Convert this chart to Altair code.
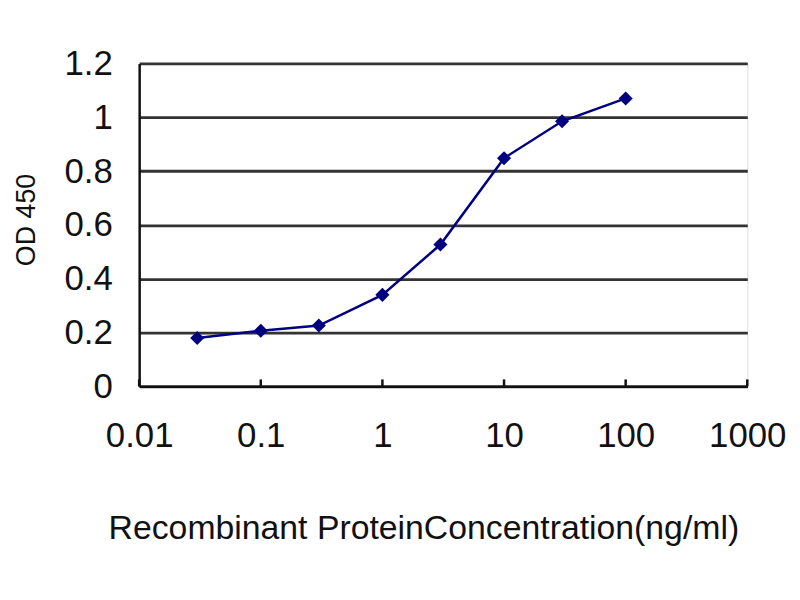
import altair as alt
import pandas as pd

concentration = [0.03, 0.1, 0.3, 1, 3, 10, 30, 100]
od450 = [0.18, 0.207, 0.226, 0.34, 0.527, 0.848, 0.985, 1.07]
x_ticks = [0.01, 0.1, 1, 10, 100, 1000]
y_ticks = [0, 0.2, 0.4, 0.6, 0.8, 1.0, 1.2]

df = pd.DataFrame({"conc": concentration, "od": od450})
ticks_df = pd.DataFrame({"t": x_ticks})

W, H = 612, 325
FONT = "Liberation Sans"
TXT = "#111111"

xscale = alt.Scale(type="log", domain=[0.01, 1000])
yscale = alt.Scale(domain=[0, 1.2], nice=False)

x_enc = alt.X(
    "conc:Q",
    scale=xscale,
    axis=alt.Axis(
        values=x_ticks,
        format="~g",
        title="Recombinant ProteinConcentration(ng/ml)",
        grid=False,
        ticks=False,
        domainColor="#111",
        domainWidth=2.5,
        labelFont=FONT,
        labelFontSize=35,
        labelColor=TXT,
        labelPadding=33,
        labelFlush=False,
        labelOverlap=False,
        titleFont=FONT,
        titleFontSize=34,
        titleFontWeight="normal",
        titleColor=TXT,
        titleX=286,
        titleY=143,
        titleBaseline="middle",
        titleAlign="center",
    ),
)
y_enc = alt.Y(
    "od:Q",
    scale=yscale,
    axis=alt.Axis(
        values=y_ticks,
        format="~g",
        title="OD 450",
        grid=True,
        gridColor="#333",
        gridWidth=2.8,
        ticks=False,
        domainColor="#111",
        domainWidth=2.5,
        labelFont=FONT,
        labelFontSize=35,
        labelColor=TXT,
        labelPadding=27,
        labelFlush=False,
        titleFont=FONT,
        titleFontSize=27,
        titleFontWeight="normal",
        titleColor=TXT,
        titleX=-99,
        titleY=157,
        titleAngle=270,
        titleBaseline="bottom",
        titleAlign="center",
    ),
)

line = alt.Chart(df).mark_line(color="#000080", strokeWidth=2.5).encode(x=x_enc, y=y_enc)
points = alt.Chart(df).mark_point(
    shape="diamond", filled=True, color="#000080", size=200, opacity=1
).encode(x="conc:Q", y="od:Q")

inner_ticks = alt.Chart(ticks_df).mark_rule(color="#111", strokeWidth=2.5).encode(
    x=alt.X("t:Q", scale=xscale),
    y=alt.value(H),
    y2=alt.value(H - 7),
)

chart = (
    alt.layer(line, inner_ticks, points)
    .properties(
        width=W,
        height=H,
        autosize=alt.AutoSizeParams(type="none"),
        padding={"left": 132, "top": 54, "right": 45, "bottom": 180},
    )
    .configure_view(stroke="#8a8a8a", strokeWidth=2)
    .configure(background="white")
)

chart.save("out.html", embed_options={"renderer": "svg", "actions": False})
